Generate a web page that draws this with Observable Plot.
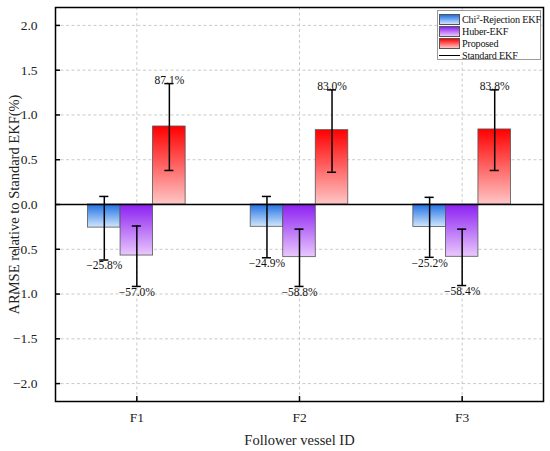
<!DOCTYPE html>
<html><head><meta charset="utf-8">
<script src="https://cdn.jsdelivr.net/npm/d3@7"></script>
<script src="https://cdn.jsdelivr.net/npm/@observablehq/plot@0.6"></script>
<style>
body{margin:0;background:#fff;}
#wrap{position:relative;width:550px;height:451px;font-family:"Liberation Serif","Times New Roman",serif;}
#wrap svg, #wrap svg text{font-family:"Liberation Serif","Times New Roman",serif !important;}
#legend{position:absolute;left:437px;top:10px;width:104px;height:50px;border:1px solid #9a9a9a;background:#fff;font-size:10.2px;letter-spacing:-0.2px;color:#111;box-sizing:border-box;}
#legend .row{position:absolute;left:1px;height:12px;display:flex;align-items:center;white-space:nowrap;}
#legend .sw{width:21px;height:11px;border:1px solid #555;margin-right:2px;box-sizing:border-box;flex:none;}
#legend .ln{width:21px;height:0;border-top:1px solid #000;margin-right:2px;flex:none;}
#legend sup{font-size:7px;line-height:0;vertical-align:4px;}
</style></head><body><div id="wrap"></div>
<script>
const categories = ["F1", "F2", "F3"];
const seriesNames = ["Chi²-Rejection EKF", "Huber-EKF", "Proposed"];
const baselineName = "Standard EKF";
const chiValues = [-0.258, -0.249, -0.252];
const chiLow = [-0.62, -0.595, -0.59];
const chiHigh = [0.09, 0.09, 0.08];
const huberValues = [-0.570, -0.588, -0.584];
const huberLow = [-0.915, -0.915, -0.905];
const huberHigh = [-0.24, -0.275, -0.275];
const proposedValues = [0.871, 0.830, 0.838];
const proposedLow = [0.38, 0.36, 0.38];
const proposedHigh = [1.35, 1.28, 1.28];
const yTicks = [-2.0, -1.5, -1.0, -0.5, 0.0, 0.5, 1.0, 1.5, 2.0];
const xTitle = "Follower vessel ID";
const yTitle = "ARMSE relative to Standard EKF(%)";

const gradTop = ["#1f6fe3", "#8b1ff2", "#ff0000"];
const gradBottom = ["#cfe6fc", "#e9c8fc", "#ffc6c6"];

const values = [chiValues, huberValues, proposedValues];
const lows = [chiLow, huberLow, proposedLow];
const highs = [chiHigh, huberHigh, proposedHigh];

const groupStep = 0.2, barHalf = 0.1, capHalf = 0.028;
const rows = [];
categories.forEach((c, i) => {
  seriesNames.forEach((s, k) => {
    const cx = i + (k - 1) * groupStep;
    rows.push({i, k, cx, v: values[k][i], lo: lows[k][i], hi: highs[k][i]});
  });
});
const fmt = d3.format(".1f");

const defs = () => {
  const d = d3.create("svg:defs");
  gradTop.forEach((t, k) => {
    const g = d.append("linearGradient").attr("id", "grad" + k)
      .attr("x1", 0).attr("y1", 0).attr("x2", 0).attr("y2", 1);
    g.append("stop").attr("offset", "0%").attr("stop-color", t);
    g.append("stop").attr("offset", "100%").attr("stop-color", gradBottom[k]);
  });
  return d.node();
};

const barMarks = seriesNames.map((s, k) =>
  Plot.rect(rows.filter(r => r.k === k), {
    x1: r => r.cx - barHalf, x2: r => r.cx + barHalf,
    y1: r => 0, y2: "v",
    fill: `url(#grad${k})`, stroke: "#555", strokeWidth: 0.8
  }));

const chart = Plot.plot({
  width: 550, height: 451,
  marginLeft: 55, marginRight: 7, marginTop: 7, marginBottom: 50,
  style: {fontSize: "13.5px", color: "#222", background: "white"},
  x: {domain: [-0.5, 2.5], ticks: [0, 1, 2], tickFormat: i => categories[i], tickSize: 0, tickPadding: 11, label: null},
  y: {domain: [-2.2, 2.2], ticks: yTicks, tickFormat: fmt, tickSize: 0, tickPadding: 18, label: null},
  marks: [
    defs,
    Plot.ruleY(yTicks, {stroke: "#c4c4c4", strokeDasharray: "3,2.5", strokeWidth: 0.9}),
    Plot.ruleX([0, 1, 2], {stroke: "#c4c4c4", strokeDasharray: "3,2.5", strokeWidth: 0.9}),
    ...barMarks,
    Plot.ruleY([0], {stroke: "black", strokeWidth: 1.5}),
    Plot.ruleX(rows, {x: "cx", y1: "lo", y2: "hi", stroke: "black", strokeWidth: 1.5}),
    Plot.ruleY(rows, {y: "lo", x1: r => r.cx - capHalf, x2: r => r.cx + capHalf, stroke: "black", strokeWidth: 1.5}),
    Plot.ruleY(rows, {y: "hi", x1: r => r.cx - capHalf, x2: r => r.cx + capHalf, stroke: "black", strokeWidth: 1.5}),
    Plot.text(rows.filter(r => r.v >= 0), {x: "cx", y: "hi", text: r => fmt(r.v * 100) + "%", lineAnchor: "bottom", dy: 0, fontSize: 11.5, fill: "#111"}),
    Plot.text(rows.filter(r => r.v < 0), {x: "cx", y: "lo", text: r => fmt(r.v * 100) + "%", lineAnchor: "top", dy: 1, fontSize: 11.5, fill: "#111"}),
    Plot.ruleY(yTicks, {x1: -0.5, x2: -0.5 + 0.031, stroke: "black", strokeWidth: 1.5}),
    Plot.ruleX([0, 1, 2], {x: d => d, y1: -2.2, y2: -2.2 + 0.056, stroke: "black", strokeWidth: 1.5}),
    Plot.frame({stroke: "black", strokeWidth: 1.5}),
    Plot.text([xTitle], {frameAnchor: "bottom", dy: 43, text: d => d, fontSize: 14.5, fill: "#222"}),
    Plot.text([yTitle], {frameAnchor: "left", dx: -41, rotate: -90, textAnchor: "middle", text: d => d, fontSize: 14.5, fill: "#222"})
  ]
});
const wrap = document.getElementById("wrap");
wrap.appendChild(chart);

const legend = document.createElement("div");
legend.id = "legend";
const items = seriesNames.map((s, k) => ({label: s.replace("²", "<sup>2</sup>"), k}));
items.forEach((it, j) => {
  const row = document.createElement("div");
  row.className = "row";
  row.style.top = (2 + j * 12) + "px";
  row.innerHTML = `<div class="sw" style="background:linear-gradient(${gradTop[it.k]}, ${gradBottom[it.k]})"></div><span>${it.label}</span>`;
  legend.appendChild(row);
});
const row = document.createElement("div");
row.className = "row";
row.style.top = (2 + 3 * 12) + "px";
row.innerHTML = `<div class="ln"></div><span>${baselineName}</span>`;
legend.appendChild(row);
wrap.appendChild(legend);
</script></body></html>
